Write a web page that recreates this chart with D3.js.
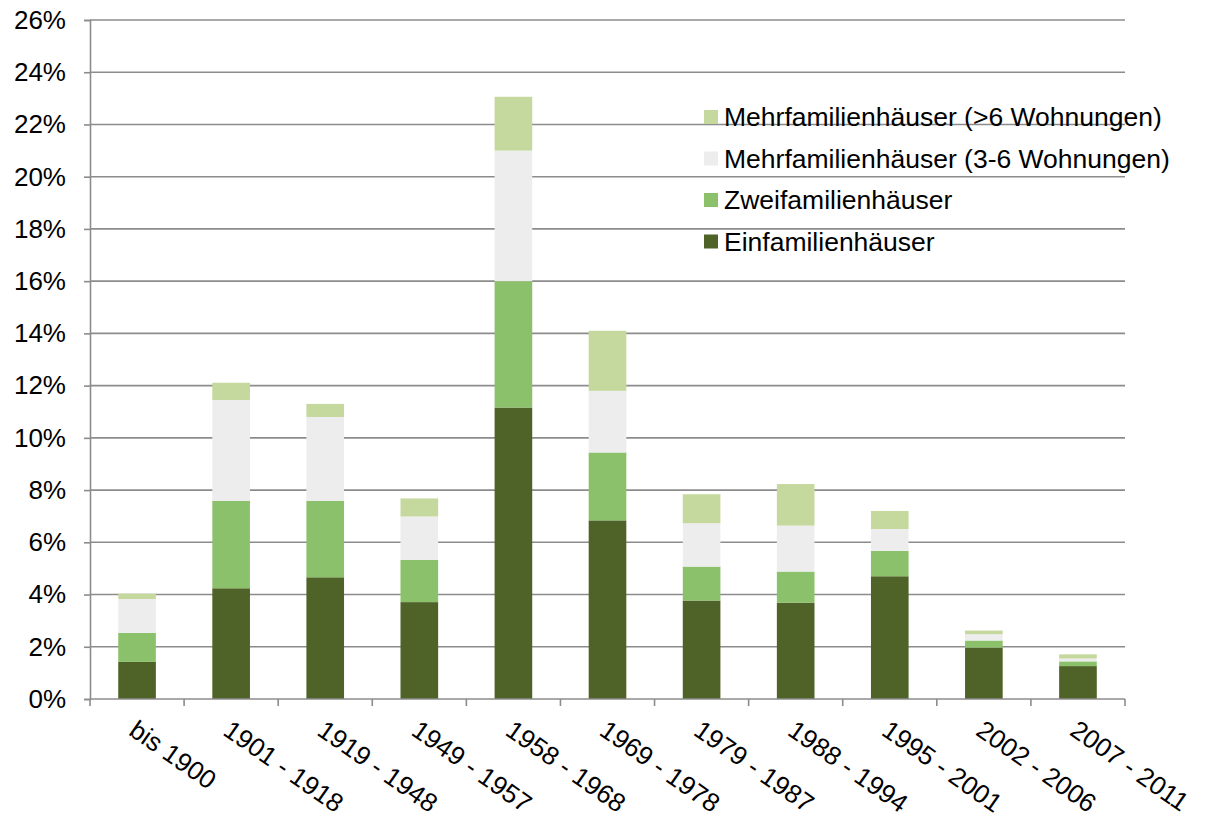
<!DOCTYPE html>
<html><head><meta charset="utf-8">
<script src="https://cdn.jsdelivr.net/npm/d3@7"></script>
<style>body{margin:0;background:#fff}svg{display:block}text{font-family:"Liberation Sans",Arial,sans-serif;fill:#000}</style>
</head><body><svg id="c" width="1207" height="818"></svg>
<script>
const categories = ["bis 1900","1901 - 1918","1919 - 1948","1949 - 1957","1958 - 1968","1969 - 1978","1979 - 1987","1988 - 1994","1995 - 2001","2002 - 2006","2007 - 2011"];
const einfamilien = [1.42, 4.24, 4.66, 3.71, 11.16, 6.84, 3.77, 3.69, 4.70, 1.97, 1.26];
const zweifamilien = [1.11, 3.35, 2.93, 1.62, 4.84, 2.60, 1.30, 1.19, 0.97, 0.27, 0.18];
const mehr36 = [1.30, 3.86, 3.21, 1.66, 5.00, 2.36, 1.66, 1.76, 0.84, 0.24, 0.11];
const mehr6 = [0.20, 0.66, 0.50, 0.69, 2.06, 2.30, 1.11, 1.59, 0.69, 0.14, 0.16];
const seriesNames = ["Einfamilienhäuser","Zweifamilienhäuser","Mehrfamilienhäuser (3-6 Wohnungen)","Mehrfamilienhäuser (>6 Wohnungen)"];
const seriesColors = ["#4f6228","#8cc16c","#ededed","#c5d89d"];
const yTicks = [0,2,4,6,8,10,12,14,16,18,20,22,24,26];

const svg = d3.select("#c");
const L = 90, R = 1125, T = 20, B = 699;
const x = d3.scaleBand().domain(categories).range([L, R]).paddingInner(0.6).paddingOuter(0.3);
const y = d3.scaleLinear().domain([0, 26]).range([B, T]);

const rows = categories.map((c, i) => ({cat: c, s0: einfamilien[i], s1: zweifamilien[i], s2: mehr36[i], s3: mehr6[i]}));
const stack = d3.stack().keys(["s0","s1","s2","s3"])(rows);

// gridlines
svg.append("g").selectAll("line").data(yTicks.filter(d => d > 0)).join("line")
  .attr("x1", L).attr("x2", R).attr("y1", d => y(d)).attr("y2", d => y(d))
  .attr("stroke", "#8c8c8c").attr("stroke-width", 1.6);

// bars
svg.append("g").selectAll("g").data(stack).join("g")
  .attr("fill", (d, i) => seriesColors[i])
  .selectAll("rect").data(d => d).join("rect")
  .attr("x", d => x(d.data.cat)).attr("width", x.bandwidth())
  .attr("y", d => y(d[1])).attr("height", d => y(d[0]) - y(d[1]));

// y axis
const yAxis = d3.axisLeft(y).tickValues(yTicks).tickFormat(d => d + "%").tickSize(6).tickPadding(18);
const gy = svg.append("g").attr("transform", `translate(${L},0)`).call(yAxis);
gy.select(".domain").attr("stroke", "#8c8c8c").attr("stroke-width", 1.6);
gy.selectAll(".tick line").attr("stroke", "#8c8c8c").attr("stroke-width", 1.6);
gy.selectAll("text").style("font-size", "26px").attr("fill", "#000").style("font-family", "'Liberation Sans',Arial,sans-serif");

// x axis line and boundary ticks
const step = x.step();
const bounds = d3.range(categories.length + 1).map(i => L + i * step);
svg.append("line").attr("x1", L).attr("x2", R).attr("y1", B).attr("y2", B).attr("stroke", "#8c8c8c").attr("stroke-width", 1.6);
svg.append("g").selectAll("line").data(bounds).join("line")
  .attr("x1", d => d).attr("x2", d => d).attr("y1", B).attr("y2", B + 7)
  .attr("stroke", "#8c8c8c").attr("stroke-width", 1.6);

// x labels
svg.append("g").selectAll("text").data(categories).join("text")
  .attr("transform", d => `translate(${x(d) + x.bandwidth()/2 + 1},${B + 20}) rotate(35)`)
  .attr("dy", "0.7em")
  .attr("text-anchor", "start")
  .style("font-size", "26px")
  .text(d => d);

// legend
const legendOrder = [3,2,1,0];
const lg = svg.append("g");
legendOrder.forEach((si, k) => {
  const cy = 117 + k * 41.5;
  lg.append("rect").attr("x", 704).attr("y", cy - 7).attr("width", 14).attr("height", 14).attr("fill", seriesColors[si]);
  lg.append("text").attr("x", 724).attr("y", cy).attr("dy", "0.35em").style("font-size", "26.5px").text(seriesNames[si]);
});
</script></body></html>
